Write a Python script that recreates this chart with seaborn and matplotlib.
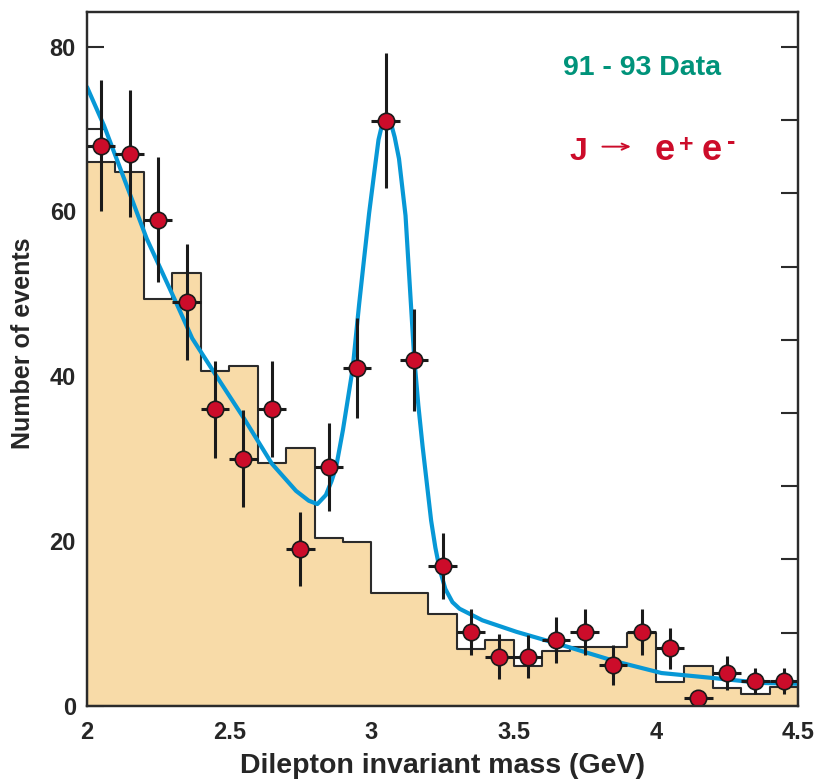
import matplotlib
matplotlib.use("Agg")
import matplotlib.pyplot as plt
import seaborn as sns

# Data
BIN_EDGES = [2.0, 2.1, 2.2, 2.3, 2.4, 2.5, 2.6, 2.7, 2.8, 2.9, 3.0, 3.1, 3.2,
             3.3, 3.4, 3.5, 3.6, 3.7, 3.8, 3.9, 4.0, 4.1, 4.2, 4.3, 4.4, 4.5]
MASS = [2.05, 2.15, 2.25, 2.35, 2.45, 2.55, 2.65, 2.75, 2.85, 2.95, 3.05, 3.15, 3.25,
        3.35, 3.45, 3.55, 3.65, 3.75, 3.85, 3.95, 4.05, 4.15, 4.25, 4.35, 4.45]

# background histogram (filled)
BKG_COUNTS = [66.0, 64.8, 49.4, 52.5, 40.6, 41.2, 29.5, 31.3, 20.4, 19.9, 13.7, 13.7, 11.2,
              6.9, 8.0, 4.9, 6.7, 7.2, 7.2, 8.8, 2.9, 4.9, 2.2, 1.5, 2.3]

# data points with errors
EVENTS = [68, 67, 59, 49, 36, 30, 36, 19, 29, 41, 71, 42, 17,
          9, 6, 6, 8, 9, 5, 9, 7, 1, 4, 3, 3]
EVENTS_ERR = [8.0, 7.7, 7.6, 7.0, 5.9, 5.9, 5.8, 4.5, 5.3, 6.1, 8.2, 6.2, 4.0,
              2.8, 2.7, 2.6, 2.8, 2.8, 2.4, 2.8, 2.5, 1.0, 2.1, 1.6, 1.6]
HALF_BIN = 0.05

# fitted curve (traced)
FIT_X = [2.00, 2.06, 2.15, 2.21, 2.31, 2.37, 2.45, 2.55, 2.65, 2.735, 2.78, 2.81,
         2.84, 2.86, 2.876, 2.90, 2.934, 2.957, 2.975, 2.992, 3.01, 3.025, 3.038,
         3.053, 3.068, 3.082, 3.097, 3.12, 3.135, 3.15, 3.165, 3.18, 3.195, 3.21,
         3.225, 3.24, 3.26, 3.285, 3.31, 3.39, 3.51, 3.65, 3.86, 4.02, 4.20, 4.37, 4.50]
FIT_Y = [75.1, 70.4, 62.2, 56.7, 49.2, 44.6, 40.3, 35.0, 29.4, 26.1, 24.9, 24.5,
         25.6, 27.3, 29.0, 33.5, 40.9, 48.8, 54.5, 59.8, 64.7, 68.7, 70.6,
         71.3, 70.8, 69.0, 66.4, 59.5, 51.0, 42.5, 36.5, 31.5, 27.0, 22.5,
         19.2, 16.6, 14.2, 12.6, 11.8, 10.4, 9.0, 7.6, 5.4, 4.0, 3.4, 2.8, 2.7]

LEFT_MAJOR = [0, 20, 40, 60, 80]
LEFT_MINOR = [10, 30, 50, 70]
RIGHT_TICKS = [8.9, 17.8, 26.7, 35.6, 44.4, 53.3, 62.2, 71.1, 80.0]
X_MAJOR = [2.0, 2.5, 3.0, 3.5, 4.0, 4.5]
X_LABELS = ["2", "2.5", "3", "3.5", "4", "4.5"]
X_MINOR = [2.25, 2.75, 3.25, 3.75, 4.25]

FILL = "#f8dba8"
EDGE = "#2b2b2b"
RED = "#cc0c2a"
BLUE = "#0798d6"
TEAL = "#00937a"

sns.set_style("white")
plt.rcParams["font.family"] = ["Liberation Sans", "DejaVu Sans"]
plt.rcParams["font.weight"] = "bold"

fig = plt.figure(figsize=(8.19, 7.79), dpi=100)
ax = fig.add_axes([87 / 819, 73 / 779, 711 / 819, 694 / 779])

sns.histplot(x=MASS, weights=BKG_COUNTS, bins=BIN_EDGES, element="step", fill=True,
             color=FILL, edgecolor=EDGE, linewidth=1.5, alpha=1, ax=ax, zorder=1)

sns.lineplot(x=FIT_X, y=FIT_Y, color=BLUE, linewidth=3.0, ax=ax, zorder=3)

ax.errorbar(MASS, EVENTS, yerr=EVENTS_ERR, xerr=HALF_BIN, fmt="none",
            ecolor="#1a1a1a", elinewidth=2.2, capsize=0, zorder=4)
sns.scatterplot(x=MASS, y=EVENTS, s=140, color=RED, edgecolor="#1a1a1a",
                linewidth=1.2, ax=ax, zorder=5)

ax.set_xlim(2.0, 4.5)
ax.set_ylim(0, 84.2)

ax.set_xticks(X_MAJOR)
ax.set_xticklabels(X_LABELS)
ax.set_xticks(X_MINOR, minor=True)
ax.set_yticks(LEFT_MAJOR)
ax.set_yticks(LEFT_MINOR, minor=True)
ax.tick_params(axis="both", which="both", direction="in", length=12, width=1.5,
               color=EDGE, labelsize=17)
ax.tick_params(axis="x", which="major", pad=11)
ax.tick_params(axis="y", which="major", pad=8)

ax2 = ax.twinx()
ax2.set_ylim(0, 84.2)
ax2.set_yticks(RIGHT_TICKS)
ax2.set_yticklabels([])
ax2.tick_params(axis="y", direction="in", length=12, width=1.5, color=EDGE)

for a in (ax, ax2):
    for sp in a.spines.values():
        sp.set_visible(True)
        sp.set_color(EDGE)
        sp.set_linewidth(1.6)

ax.set_xlabel("Dilepton invariant mass (GeV)", fontsize=20.5, fontweight="bold", labelpad=6)
ax.set_ylabel("Number of events", fontsize=18, fontweight="bold")
ax.yaxis.set_label_coords(-0.073, 0.522)

# annotations
ax.text(0.781, 0.919, "91 - 93 Data", transform=ax.transAxes, color=TEAL,
        fontsize=20.5, fontweight="bold", ha="center", va="center")
ax.text(0.679, 0.787, "J", transform=ax.transAxes, color=RED,
        fontsize=23, fontweight="bold", ha="left", va="baseline")
ax.annotate("", xy=(0.769, 0.806), xytext=(0.721, 0.806), xycoords="axes fraction",
            arrowprops=dict(arrowstyle="->,head_length=0.5,head_width=0.22",
                            color=RED, lw=1.4))
ax.text(0.799, 0.787, "e", transform=ax.transAxes, color=RED,
        fontsize=26, fontweight="bold", ha="left", va="baseline")
ax.text(0.832, 0.809, "+", transform=ax.transAxes, color=RED,
        fontsize=18, fontweight="bold", ha="left", va="center")
ax.text(0.864, 0.787, "e", transform=ax.transAxes, color=RED,
        fontsize=26, fontweight="bold", ha="left", va="baseline")
ax.text(0.900, 0.812, "-", transform=ax.transAxes, color=RED,
        fontsize=18, fontweight="bold", ha="left", va="center")

fig.savefig("out.png", dpi=100)
